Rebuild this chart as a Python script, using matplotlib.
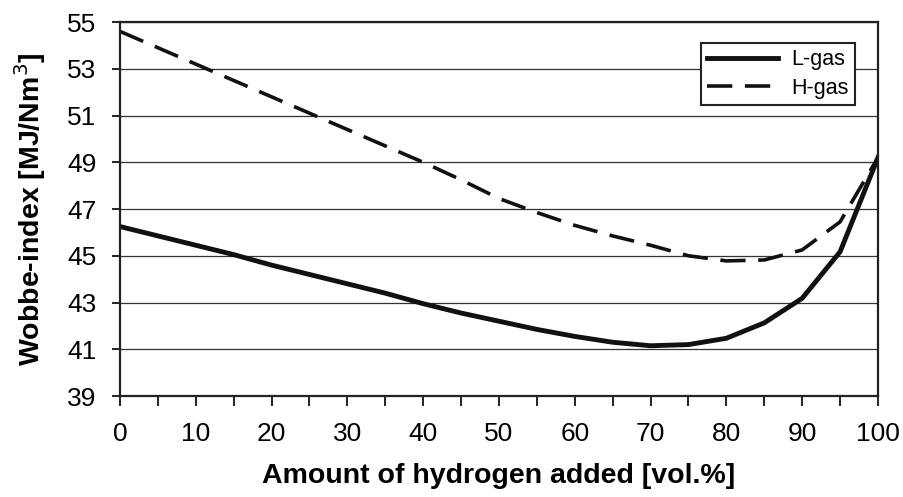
import numpy as np
import matplotlib.pyplot as plt
from matplotlib.ticker import MultipleLocator

plt.rcParams['font.family'] = ['Liberation Sans', 'DejaVu Sans']

# Wobbe-index vs hydrogen share
h2 = [0, 5, 10, 15, 20, 25, 30, 35, 40, 45, 50, 55, 60, 65, 70, 75, 80, 85, 90, 95, 100]
l_gas = [46.25, 45.85, 45.45, 45.05, 44.6, 44.2, 43.8, 43.4, 42.95, 42.55, 42.2,
         41.85, 41.55, 41.3, 41.15, 41.2, 41.47, 42.13, 43.18, 45.17, 49.2]
h_gas = [54.6, 53.9, 53.2, 52.5, 51.8, 51.1, 50.4, 49.7, 49.0, 48.25, 47.45,
         46.85, 46.3, 45.85, 45.45, 45.0, 44.78, 44.82, 45.25, 46.45, 49.2]
y_ticks = [39, 41, 43, 45, 47, 49, 51, 53, 55]

fig = plt.figure(figsize=(9.04, 4.97), dpi=100)
ax = fig.add_axes([0.1327, 0.2032, 0.9712 - 0.1327, 0.9557 - 0.2032])

ax.plot(h2, l_gas, color='#111111', lw=3.5, label='L-gas', solid_joinstyle='round')
ax.plot(h2, h_gas, color='#111111', lw=2.6, dashes=(7, 3.5), label='H-gas')

ax.set_xlim(0, 100)
ax.set_ylim(39, 55)
ax.xaxis.set_major_locator(MultipleLocator(10))
ax.xaxis.set_minor_locator(MultipleLocator(5))
ax.set_yticks(y_ticks)
ax.grid(axis='y', color='#333333', lw=0.9)
ax.set_axisbelow(True)

for s in ax.spines.values():
    s.set_linewidth(1.6)
    s.set_color('#222222')

ax.tick_params(axis='both', which='both', direction='out', width=1.4, color='#222222')
ax.tick_params(axis='y', length=6, labelsize=19, pad=11)
ax.tick_params(axis='x', which='major', length=7, labelsize=19, pad=12)
ax.tick_params(axis='x', which='minor', length=7)

ax.set_xlabel('Amount of hydrogen added [vol.%]', fontsize=20.5, fontweight='bold', labelpad=12)
ax.set_ylabel('Wobbe-index [MJ/Nm$^3$]', fontsize=20.5, fontweight='bold', labelpad=14)

leg = ax.legend(loc='upper right', bbox_to_anchor=(0.97, 0.944), fontsize=15.5,
                frameon=True, fancybox=False, handlelength=3.3, borderpad=0.3,
                labelspacing=0.35, handletextpad=0.6, borderaxespad=0)
leg.get_frame().set_edgecolor('#222222')
leg.get_frame().set_linewidth(1.5)
leg.get_frame().set_alpha(1)

fig.savefig('out.png', dpi=100)
